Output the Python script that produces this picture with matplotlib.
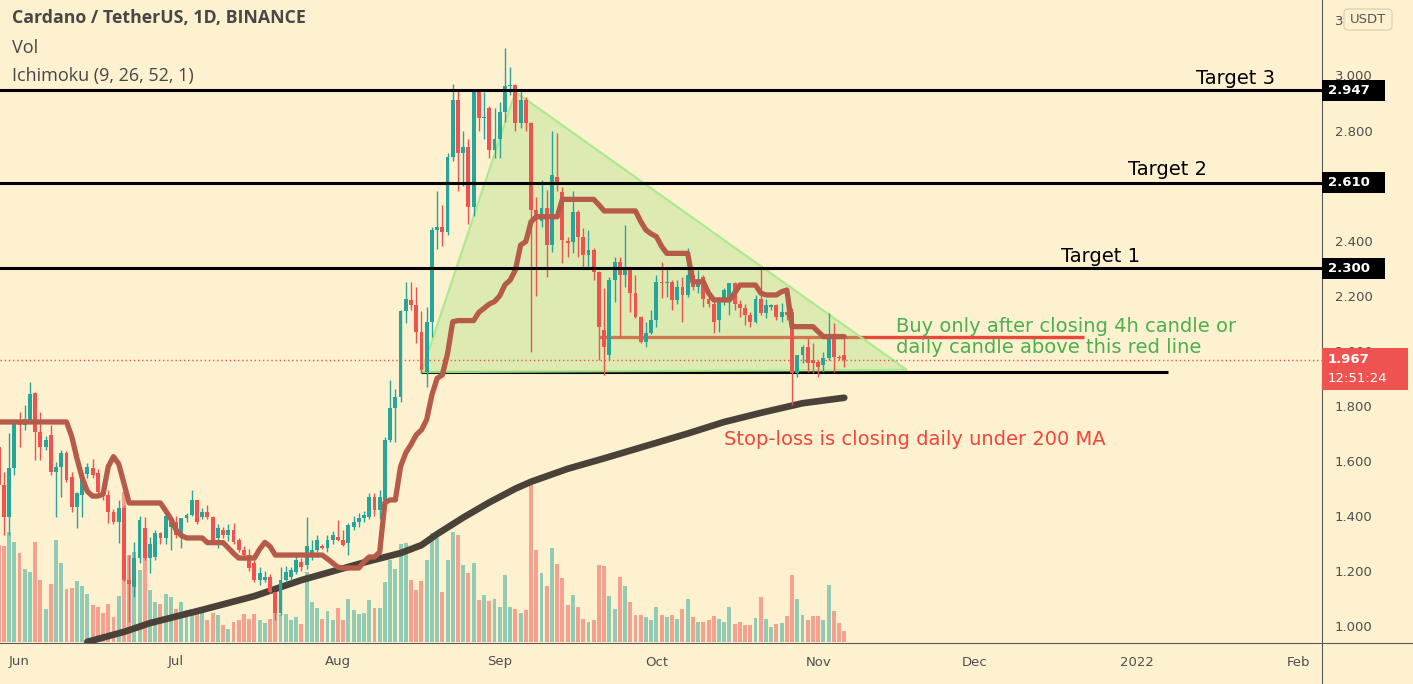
import matplotlib
matplotlib.use("Agg")
import matplotlib.pyplot as plt
import numpy as np
import pandas as pd
from matplotlib.patches import Rectangle, FancyBboxPatch, Polygon
from matplotlib.transforms import IdentityTransform
from matplotlib.lines import Line2D

# ---------------- data (ADA/USDT daily, 2021-05-28 .. 2021-11-06) ----------------
dates = pd.date_range("2021-05-28", "2021-11-06", freq="D")

opens = [1.652, 1.513, 1.398, 1.574, 1.743, 1.731, 1.749, 1.846, 1.707, 1.652,
         1.695, 1.562, 1.580, 1.628, 1.544, 1.435, 1.477, 1.553, 1.576, 1.555,
         1.489, 1.477, 1.416, 1.380, 1.428, 1.168, 1.144, 1.247, 1.356, 1.247,
         1.253, 1.338, 1.320, 1.362, 1.380, 1.326, 1.392, 1.404, 1.459, 1.398,
         1.416, 1.398, 1.320, 1.350, 1.332, 1.350, 1.314, 1.277, 1.259, 1.229,
         1.168, 1.168, 1.180, 1.126, 1.047, 1.170, 1.180, 1.199, 1.235, 1.223,
         1.253, 1.277, 1.292, 1.284, 1.314, 1.326, 1.314, 1.302, 1.362, 1.380,
         1.392, 1.398, 1.471, 1.423, 1.459, 1.677, 1.792, 1.834, 2.143, 2.185,
         2.167, 2.070, 1.925, 2.106, 2.440, 2.450, 2.430, 2.705, 2.910, 2.717,
         2.740, 2.524, 2.947, 2.844, 2.880, 2.730, 2.770, 2.868, 2.960, 2.965,
         2.826, 2.910, 2.826, 2.510, 2.470, 2.520, 2.384, 2.632, 2.578, 2.400,
         2.396, 2.505, 2.415, 2.348, 2.366, 2.288, 2.076, 1.985, 2.257, 2.324,
         2.275, 2.294, 2.209, 2.124, 2.033, 2.064, 2.112, 2.251, 2.245, 2.251,
         2.185, 2.233, 2.203, 2.275, 2.233, 2.270, 2.190, 2.172, 2.112, 2.190,
         2.180, 2.245, 2.172, 2.154, 2.130, 2.106, 2.190, 2.136, 2.160, 2.167,
         2.124, 2.142, 2.142, 1.918, 1.985, 2.015, 1.967, 1.961, 1.949, 1.973,
         2.052, 1.979, 1.985]
highs = [1.665, 1.562, 1.701, 1.750, 1.780, 1.804, 1.888, 1.850, 1.780, 1.690,
         1.731, 1.598, 1.640, 1.635, 1.562, 1.489, 1.562, 1.592, 1.606, 1.570,
         1.500, 1.495, 1.427, 1.459, 1.440, 1.259, 1.307, 1.400, 1.398, 1.325,
         1.350, 1.343, 1.410, 1.400, 1.400, 1.395, 1.410, 1.495, 1.460, 1.430,
         1.440, 1.400, 1.370, 1.360, 1.370, 1.374, 1.320, 1.290, 1.280, 1.240,
         1.217, 1.200, 1.190, 1.126, 1.217, 1.220, 1.215, 1.260, 1.250, 1.398,
         1.314, 1.330, 1.300, 1.330, 1.345, 1.386, 1.350, 1.375, 1.400, 1.410,
         1.420, 1.483, 1.483, 1.495, 1.689, 1.894, 1.860, 2.150, 2.250, 2.250,
         2.233, 2.143, 2.160, 2.450, 2.580, 2.530, 2.720, 2.970, 2.950, 2.800,
         2.770, 2.950, 2.950, 2.940, 2.890, 2.880, 2.905, 3.098, 3.030, 2.970,
         2.950, 2.920, 2.830, 2.560, 2.620, 2.584, 2.800, 2.790, 2.596, 2.415,
         2.580, 2.510, 2.445, 2.440, 2.372, 2.290, 2.227, 2.270, 2.342, 2.342,
         2.457, 2.300, 2.275, 2.125, 2.106, 2.148, 2.275, 2.324, 2.306, 2.257,
         2.257, 2.270, 2.372, 2.306, 2.294, 2.275, 2.220, 2.185, 2.197, 2.227,
         2.245, 2.250, 2.185, 2.172, 2.140, 2.203, 2.300, 2.190, 2.172, 2.172,
         2.173, 2.185, 2.154, 1.985, 2.021, 2.046, 2.027, 1.967, 1.997, 2.136,
         2.100, 1.985, 2.052]
lows = [1.500, 1.332, 1.330, 1.550, 1.650, 1.713, 1.737, 1.604, 1.604, 1.640,
        1.550, 1.398, 1.471, 1.525, 1.416, 1.356, 1.398, 1.540, 1.540, 1.480,
        1.460, 1.374, 1.370, 1.301, 1.165, 1.017, 1.108, 1.230, 1.240, 1.193,
        1.240, 1.300, 1.300, 1.278, 1.320, 1.283, 1.380, 1.400, 1.370, 1.390,
        1.390, 1.300, 1.283, 1.320, 1.310, 1.300, 1.270, 1.250, 1.200, 1.160,
        1.150, 1.160, 1.120, 1.023, 1.040, 1.160, 1.170, 1.190, 1.200, 1.210,
        1.240, 1.270, 1.280, 1.270, 1.300, 1.310, 1.290, 1.259, 1.350, 1.360,
        1.380, 1.390, 1.400, 1.390, 1.450, 1.670, 1.670, 1.816, 2.100, 2.150,
        2.030, 1.919, 1.870, 2.050, 2.370, 2.380, 2.420, 2.690, 2.580, 2.600,
        2.460, 2.490, 2.800, 2.770, 2.700, 2.700, 2.700, 2.830, 2.930, 2.800,
        2.810, 2.800, 1.997, 2.200, 2.450, 2.270, 2.360, 2.580, 2.320, 2.342,
        2.354, 2.342, 2.306, 2.306, 2.257, 1.967, 1.912, 1.967, 2.179, 2.052,
        2.233, 2.142, 2.120, 2.027, 2.015, 2.060, 2.088, 2.191, 2.197, 2.148,
        2.172, 2.106, 2.197, 2.221, 2.210, 2.161, 2.161, 2.064, 2.070, 2.167,
        2.130, 2.150, 2.124, 2.094, 2.088, 2.100, 2.130, 2.118, 2.148, 2.112,
        2.106, 2.112, 1.804, 1.906, 1.955, 1.925, 1.918, 1.906, 1.925, 1.967,
        1.925, 1.967, 1.943]
closes = [1.513, 1.398, 1.574, 1.743, 1.731, 1.752, 1.844, 1.707, 1.652, 1.677,
          1.562, 1.580, 1.628, 1.531, 1.435, 1.483, 1.556, 1.577, 1.550, 1.489,
          1.477, 1.416, 1.380, 1.428, 1.168, 1.155, 1.247, 1.385, 1.247, 1.300,
          1.338, 1.320, 1.400, 1.380, 1.332, 1.392, 1.404, 1.459, 1.380, 1.416,
          1.398, 1.314, 1.356, 1.332, 1.350, 1.307, 1.277, 1.259, 1.211, 1.168,
          1.193, 1.180, 1.126, 1.047, 1.170, 1.199, 1.205, 1.241, 1.217, 1.290,
          1.277, 1.314, 1.284, 1.314, 1.332, 1.314, 1.296, 1.368, 1.380, 1.392,
          1.405, 1.471, 1.423, 1.471, 1.677, 1.792, 1.834, 2.143, 2.190, 2.167,
          2.070, 1.931, 2.106, 2.440, 2.450, 2.430, 2.705, 2.910, 2.717, 2.740,
          2.524, 2.947, 2.844, 2.850, 2.730, 2.770, 2.868, 2.960, 2.965, 2.826,
          2.910, 2.826, 2.510, 2.475, 2.520, 2.384, 2.638, 2.608, 2.403, 2.390,
          2.505, 2.415, 2.348, 2.366, 2.288, 2.088, 2.015, 2.257, 2.324, 2.275,
          2.294, 2.209, 2.124, 2.033, 2.064, 2.112, 2.251, 2.245, 2.250, 2.185,
          2.233, 2.203, 2.275, 2.233, 2.250, 2.190, 2.172, 2.106, 2.190, 2.221,
          2.245, 2.172, 2.154, 2.130, 2.106, 2.190, 2.136, 2.167, 2.167, 2.124,
          2.142, 2.130, 1.918, 1.985, 2.015, 1.955, 1.955, 1.943, 1.973, 2.052,
          1.979, 1.973, 1.967]
# volume (million ADA, approx.)
volumes = [97, 96, 110, 100, 89, 73, 70, 100, 62, 33,
           58, 102, 79, 53, 54, 61, 56, 48, 37, 35,
           29, 38, 25, 46, 150, 87, 90, 72, 88, 52,
           40, 38, 48, 45, 33, 40, 32, 33, 33, 30,
           22, 29, 27, 17, 13, 20, 22, 28, 23, 28,
           22, 19, 23, 48, 28, 28, 22, 25, 18, 70,
           40, 34, 23, 31, 22, 34, 22, 43, 32, 28,
           29, 42, 34, 34, 60, 82, 73, 98, 99, 62,
           52, 61, 82, 109, 104, 50, 82, 110, 107, 77,
           69, 79, 42, 47, 41, 43, 35, 67, 35, 33,
           29, 32, 159, 92, 69, 56, 94, 78, 64, 37,
           47, 35, 23, 20, 22, 77, 76, 46, 33, 65,
           56, 40, 27, 27, 25, 22, 35, 27, 25, 27,
           23, 33, 43, 25, 20, 20, 22, 26, 23, 20,
           35, 18, 20, 17, 17, 24, 45, 23, 15, 18,
           19, 26, 67, 43, 27, 22, 26, 26, 22, 57,
           31, 19, 11]
# Ichimoku base line as drawn
kijun = [1.742, 1.742, 1.742, 1.742, 1.742, 1.742, 1.742, 1.742, 1.742, 1.742,
         1.742, 1.742, 1.742, 1.742, 1.690, 1.610, 1.540, 1.490, 1.473, 1.473,
         1.480, 1.580, 1.616, 1.590, 1.520, 1.448, 1.448, 1.448, 1.448, 1.448,
         1.448, 1.448, 1.420, 1.390, 1.350, 1.330, 1.321, 1.321, 1.321, 1.321,
         1.304, 1.304, 1.304, 1.304, 1.285, 1.265, 1.248, 1.248, 1.248, 1.248,
         1.280, 1.305, 1.290, 1.259, 1.259, 1.259, 1.259, 1.259, 1.259, 1.259,
         1.259, 1.259, 1.259, 1.245, 1.230, 1.215, 1.212, 1.212, 1.212, 1.212,
         1.235, 1.252, 1.252, 1.270, 1.450, 1.459, 1.459, 1.580, 1.630, 1.660,
         1.695, 1.713, 1.750, 1.840, 1.900, 1.913, 1.990, 2.106, 2.110, 2.110,
         2.110, 2.110, 2.140, 2.155, 2.170, 2.179, 2.200, 2.240, 2.257, 2.294,
         2.384, 2.397, 2.469, 2.487, 2.487, 2.487, 2.487, 2.487, 2.550, 2.550,
         2.550, 2.550, 2.550, 2.550, 2.550, 2.530, 2.508, 2.508, 2.508, 2.508,
         2.508, 2.508, 2.508, 2.470, 2.439, 2.425, 2.415, 2.380, 2.354, 2.354,
         2.354, 2.354, 2.354, 2.251, 2.251, 2.251, 2.210, 2.185, 2.185, 2.185,
         2.185, 2.210, 2.239, 2.239, 2.239, 2.239, 2.210, 2.203, 2.203, 2.203,
         2.215, 2.221, 2.088, 2.088, 2.088, 2.088, 2.088, 2.070, 2.052, 2.052,
         2.052, 2.052, 2.052]
# 200-day moving average, read at selected dates
ma_dates = ["2021-06-14", "2021-06-21", "2021-06-26", "2021-07-06", "2021-07-16",
            "2021-07-25", "2021-07-31", "2021-08-06", "2021-08-13", "2021-08-17",
            "2021-08-20", "2021-08-25", "2021-08-30", "2021-09-04", "2021-09-07",
            "2021-09-14", "2021-09-21", "2021-09-29", "2021-10-07", "2021-10-14",
            "2021-10-21", "2021-10-29", "2021-11-06"]
ma_values = [0.944, 0.980, 1.012, 1.060, 1.110, 1.168, 1.200, 1.232, 1.266, 1.295,
             1.335, 1.395, 1.450, 1.500, 1.525, 1.572, 1.610, 1.655, 1.700, 1.742,
             1.775, 1.810, 1.830]

# drawings
target_prices = [2.947, 2.610, 2.300]
target_labels = ["Target 3", "Target 2", "Target 1"]
support_price = 1.922
support_span = ["2021-08-17", "2022-01-07"]
trigger_price = 2.051
trigger_span = ["2021-09-20", "2021-12-22"]
triangle_dates = ["2021-08-17", "2021-09-04", "2021-11-18"]
triangle_prices = [1.923, 2.940, 1.931]
last_price = 1.967
countdown = "12:51:24"
month_ticks = ["2021-06-01", "2021-07-01", "2021-08-01", "2021-09-01", "2021-10-01",
               "2021-11-01", "2021-12-01", "2022-01-01", "2022-02-01"]
month_labels = ["Jun", "Jul", "Aug", "Sep", "Oct", "Nov", "Dec", "2022", "Feb"]
price_ticks = [1.0, 1.2, 1.4, 1.6, 1.8, 2.0, 2.2, 2.4, 2.8, 3.0, 3.2]

# ---------------- styling ----------------
W, H = 1413, 684
BG = "#fdf1cf"
UP, DOWN = "#26a69a", "#ef5350"
ORIGIN = pd.Timestamp("2021-06-01")


def dnum(d):
    return (pd.Timestamp(d) - ORIGIN).days


x = np.array([(d - ORIGIN).days for d in dates])
o = np.array(opens); h = np.array(highs); l = np.array(lows); c = np.array(closes)
up = c >= o
colors = np.where(up, UP, DOWN)

fig = plt.figure(figsize=(W / 100, H / 100), dpi=100)
fig.patch.set_facecolor(BG)
rect = [0, 41 / H, 1322 / W, 643 / H]
axv = fig.add_axes(rect)
axv.set_facecolor(BG)
ax = fig.add_axes(rect, sharex=axv)
ax.patch.set_alpha(0)

ax.set_xlim(-3.736, 249.52)
ax.set_ylim(0.9397, 3.2737)
axv.set_ylim(-1.3, 641.7)

for a in (ax, axv):
    for s in a.spines.values():
        s.set_visible(False)
axv.tick_params(left=False, labelleft=False, bottom=False, labelbottom=False)

# volume
axv.bar(x, volumes, width=0.75, color=colors, alpha=0.5, linewidth=0)

# support + trigger lines (drawn beneath the triangle)
ax.hlines(support_price, dnum(support_span[0]), dnum(support_span[1]),
          color="black", lw=2.2, zorder=2)
ax.hlines(trigger_price, dnum(trigger_span[0]), dnum(trigger_span[1]),
          color="#e8473a", lw=2.4, zorder=2)

# triangle
tri_pts = list(zip([dnum(d) for d in triangle_dates], triangle_prices))
ax.add_patch(Polygon(tri_pts, closed=True, facecolor="#9be07a", alpha=0.32,
                     edgecolor="none", zorder=2.5))
ax.add_patch(Polygon(tri_pts, closed=True, fill=False, edgecolor="#a6ea8a",
                     lw=1.6, alpha=0.9, zorder=2.6))

# 200 MA
ax.plot([dnum(d) for d in ma_dates], ma_values, color="#4a4238", lw=4.8,
        solid_capstyle="round", zorder=3)

# candles
ax.vlines(x, l, h, colors=colors, lw=1.0, zorder=4)
body_lo = np.minimum(o, c)
body_h = np.maximum(np.abs(c - o), 0.004)
ax.bar(x, body_h, bottom=body_lo, width=0.74, color=colors, linewidth=0, zorder=4)

# ichimoku base line
ax.plot(x, kijun, color="#b65a4a", lw=3.8, solid_capstyle="round",
        solid_joinstyle="round", zorder=5)

# last price dotted line
ax.axhline(last_price, color=DOWN, lw=1.0, ls=(0, (1, 2)), zorder=6)

# target lines
for p in target_prices:
    ax.axhline(p, color="black", lw=2.2, zorder=7)

# texts
FS = 14
ax.text(dnum("2022-01-20"), 2.990, target_labels[0], ha="center", va="center",
        fontsize=FS, color="black", zorder=8)
ax.text(dnum("2022-01-07"), 2.660, target_labels[1], ha="center", va="center",
        fontsize=FS, color="black", zorder=8)
ax.text(dnum("2021-12-25"), 2.344, target_labels[2], ha="center", va="center",
        fontsize=FS, color="black", zorder=8)
ax.text(dnum("2021-11-16"), 2.087, "Buy only after closing 4h candle or",
        ha="left", va="center", fontsize=FS, color="#4caf50", zorder=8)
ax.text(dnum("2021-11-16"), 2.014, "daily candle above this red line",
        ha="left", va="center", fontsize=FS, color="#4caf50", zorder=8)
ax.text(dnum("2021-10-14"), 1.677, "Stop-loss is closing daily under 200 MA",
        ha="left", va="center", fontsize=FS, color="#f0463c", zorder=8)

# axes ticks
ax.yaxis.tick_right()
ax.set_yticks(price_ticks)
ax.set_yticklabels([f"{p:.3f}" for p in price_ticks])
ax.tick_params(axis="y", length=0, pad=9, labelsize=9.5, labelcolor="#4f4f4f")
ax.set_xticks([dnum(d) for d in month_ticks])
ax.set_xticklabels(month_labels)
ax.tick_params(axis="x", length=0, pad=9, labelsize=9.5, labelcolor="#4f4f4f")

# frame lines
fig.add_artist(Line2D([1322 / W, 1322 / W], [0, 1], transform=fig.transFigure,
                      color="#5a5a5a", lw=0.8))
fig.add_artist(Line2D([0, 1], [41 / H, 41 / H], transform=fig.transFigure,
                      color="#5a5a5a", lw=0.8))

# header
fig.text(12 / W, 1 - 18 / H, "Cardano / TetherUS, 1D, BINANCE", fontsize=12.8,
         fontweight="bold", family="Open Sans", color="#474747", va="center")
fig.text(12 / W, 1 - 48 / H, "Vol", fontsize=13, family="Open Sans",
         color="#474747", va="center")
fig.text(12 / W, 1 - 76 / H, "Ichimoku (9, 26, 52, 1)", fontsize=13,
         family="Open Sans", color="#474747", va="center")

# right-axis price boxes
x_axis = 1322
def ypix(p):
    return ax.transData.transform((0, p))[1]

for p in target_prices:
    yc = ypix(p)
    fig.add_artist(Rectangle((x_axis, yc - 10.5), 63, 21, transform=IdentityTransform(),
                             facecolor="black", edgecolor="none", zorder=20))
    fig.text((x_axis + 6) / W, yc / H, f"{p:.3f}", color="white", fontsize=9.5,
             fontweight="bold", va="center", ha="left", zorder=21)

yc = ypix(last_price)
fig.add_artist(Rectangle((x_axis, yc - 30), 86, 42, transform=IdentityTransform(),
                         facecolor="#ef5350", edgecolor="none", zorder=20))
fig.text((x_axis + 6) / W, yc / H, f"{last_price:.3f}", color="white", fontsize=9.5,
         fontweight="bold", va="center", ha="left", zorder=21)
fig.text((x_axis + 6) / W, (yc - 19) / H, countdown, color="white", fontsize=9.5,
         va="center", ha="left", zorder=21)

# currency box
fig.add_artist(FancyBboxPatch((1344, H - 30), 48, 21, boxstyle="round,pad=0,rounding_size=4",
                              transform=IdentityTransform(), facecolor=BG,
                              edgecolor="#d8cdb0", lw=0.8, zorder=20))
fig.text(1368 / W, 1 - 19.5 / H, "USDT", color="#555555", fontsize=9.5,
         ha="center", va="center", zorder=21)

fig.savefig("out.png", dpi=100, facecolor=BG)
